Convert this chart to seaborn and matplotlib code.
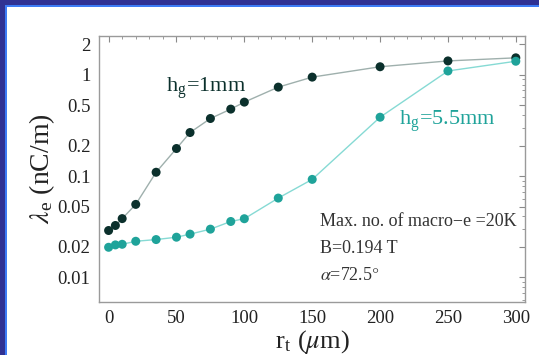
import numpy as np
import pandas as pd
import matplotlib
matplotlib.use("Agg")
import matplotlib.pyplot as plt
import matplotlib.ticker as mticker
from matplotlib.patches import Rectangle
import seaborn as sns

# ---- data ----
r_t = [0, 5, 10, 20, 35, 50, 60, 75, 90, 100, 125, 150, 200, 250, 300]
lam_1mm = [0.029, 0.0325, 0.038, 0.0525, 0.109, 0.187, 0.269, 0.370, 0.458,
           0.537, 0.755, 0.948, 1.20, 1.37, 1.47]
lam_55mm = [0.0198, 0.0209, 0.0212, 0.0227, 0.0236, 0.0249, 0.0267, 0.0299,
            0.0356, 0.0379, 0.0606, 0.0927, 0.381, 1.09, 1.36]
series_names = ["hg=1mm", "hg=5.5mm"]
y_ticks = [0.01, 0.02, 0.05, 0.1, 0.2, 0.5, 1, 2]
y_ticklabels = ["0.01", "0.02", "0.05", "0.1", "0.2", "0.5", "1", "2"]
x_ticks = [0, 50, 100, 150, 200, 250, 300]

df = pd.DataFrame({
    "r_t": r_t * 2,
    "lam": lam_1mm + lam_55mm,
    "series": [series_names[0]] * len(r_t) + [series_names[1]] * len(r_t),
})

sns.set_theme(style="white")
plt.rcParams["font.family"] = ["Liberation Serif", "DejaVu Serif"]
plt.rcParams["mathtext.fontset"] = "stix"

fig = plt.figure(figsize=(5.39, 3.55), dpi=100)
fig.patch.set_facecolor("white")
# slide frame
fig.patches.append(Rectangle((0, 0), 1, 1, transform=fig.transFigure,
                             facecolor="#2f3193", edgecolor="none", zorder=-3))
fig.patches.append(Rectangle((5 / 539, 0), 1, (355 - 5) / 355, transform=fig.transFigure,
                             facecolor="#3d7cf5", edgecolor="none", zorder=-2))
fig.patches.append(Rectangle((7 / 539, 0), 1, (355 - 7) / 355, transform=fig.transFigure,
                             facecolor="white", edgecolor="none", zorder=-1))

ax = fig.add_axes([0.1831, 0.150, 0.9746 - 0.1831, 0.8994 - 0.150])
ax.set_facecolor("white")

dark = "#0b302c"
teal = "#1fa39a"
palette = {series_names[0]: dark, series_names[1]: teal}
line_pal = {series_names[0]: "#9fb0ad", series_names[1]: "#86dad4"}

sns.lineplot(data=df, x="r_t", y="lam", hue="series", palette=line_pal,
             linewidth=1.0, legend=False, ax=ax, zorder=2)
sns.scatterplot(data=df, x="r_t", y="lam", hue="series", palette=palette,
                s=42, edgecolor="none", legend=False, ax=ax, zorder=3)

ax.set_yscale("log")
ax.set_xlim(-7.3, 307)
ax.set_ylim(0.00574, 2.43)
ax.set_yticks(y_ticks)
ax.set_yticklabels(y_ticklabels)
ax.set_xticks(x_ticks)
ax.xaxis.set_minor_locator(mticker.MultipleLocator(10))
ax.yaxis.set_minor_locator(mticker.LogLocator(base=10, subs=np.arange(2, 10)))
ax.yaxis.set_minor_formatter(mticker.NullFormatter())

for s in ax.spines.values():
    s.set_color("#9a9a9a")
    s.set_linewidth(1.0)
ax.tick_params(axis="both", which="major", direction="in", length=4, width=0.8,
               color="#8a8a8a", labelsize=13.5, labelcolor="#222222",
               top=True, right=True, pad=6)
ax.tick_params(axis="both", which="minor", direction="in", length=2, width=0.6,
               color="#8a8a8a", top=True, right=True)
ax.tick_params(axis="x", which="major", pad=6)

ax.set_xlabel(r"r$_\mathregular{t}$ ($\mu$m)", fontsize=19, color="#222222", labelpad=1)
ax.set_ylabel(r"$\lambda_\mathregular{e}$ (nC/m)", fontsize=20, color="#222222", labelpad=0)

ax.text(42, 0.74, r"h$_\mathregular{g}$=1mm", fontsize=16, color=dark,
        va="center", ha="left")
ax.text(214, 0.35, r"h$_\mathregular{g}$=5.5mm", fontsize=16, color=teal,
        va="center", ha="left")

txt_color = "#333333"
ax.text(0.518, 0.301, "Max. no. of macro\u2212e =20K", transform=ax.transAxes,
        fontsize=13, color=txt_color, va="center", ha="left")
ax.text(0.518, 0.201, "B=0.194 T", transform=ax.transAxes,
        fontsize=13, color=txt_color, va="center", ha="left")
ax.text(0.518, 0.097, r"$\alpha$=72.5$\degree$", transform=ax.transAxes,
        fontsize=13, color=txt_color, va="center", ha="left")

fig.savefig("out.png", dpi=100)
